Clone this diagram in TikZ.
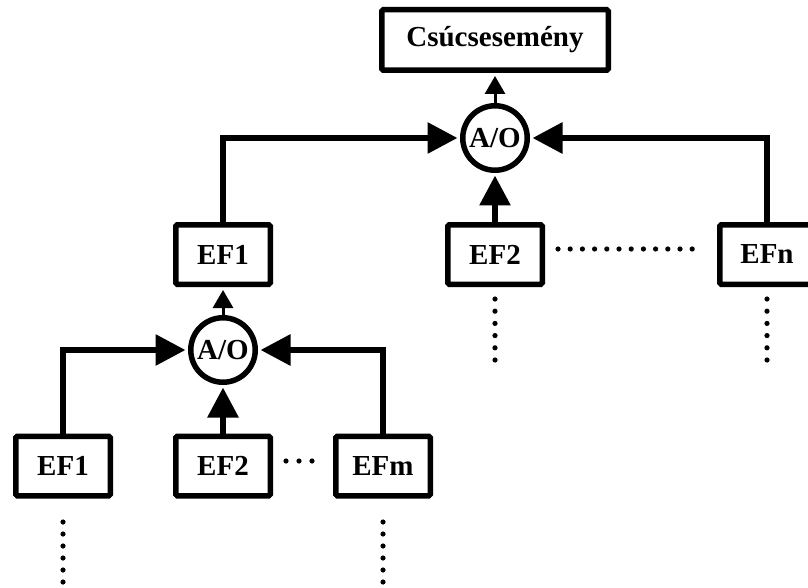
\documentclass[tikz,border=0pt]{standalone}
\usepackage{fontspec}
\setmainfont{Liberation Serif}
\usetikzlibrary{arrows.meta}
\tikzset{
  evbox/.style={draw, line width=5.5pt, rounded corners=1.5pt, minimum width=94.5pt, minimum height=59.5pt, inner sep=0pt, font=\fontsize{29}{34}\selectfont\bfseries},
  gate/.style={draw, circle, line width=5.5pt, minimum size=64.5pt, inner sep=0pt, font=\fontsize{29}{34}\selectfont\bfseries},
  bigarrow/.style={line width=6pt, line join=miter, -{Triangle[length=30pt,width=30pt]}, shorten >=2.5pt},
  smallarrow/.style={line width=3pt, -{Triangle[length=18pt,width=20pt]}, shorten >=3pt},
  dotmark/.style={fill=black}
}
\begin{document}
\begin{tikzpicture}[x=1pt,y=-1pt]
\useasboundingbox (0,0) rectangle (808,588);
\begin{scope}
\clip (0,0) rectangle (808,588);
\node[evbox, minimum width=226.5pt, minimum height=60.5pt] (top) at (495,40) {Csúcsesemény};
\node[gate] (c1) at (495,138) {A/O};
\node[evbox] (m1) at (223,254.5) {EF1};
\node[evbox] (m2) at (495,254.5) {EF2};
\node[evbox] (mn) at (767,254.5) {EFn};
\node[gate] (c2) at (223,350) {A/O};
\node[evbox] (b1) at (63,466) {EF1};
\node[evbox] (b2) at (223,466) {EF2};
\node[evbox] (bm) at (383,466) {EFm};

\draw[smallarrow] (c1) -- (top);
\draw[bigarrow] (m1) |- (c1);
\draw[bigarrow] (mn) |- (c1);
\draw[bigarrow] (m2) -- (c1);

\draw[smallarrow] (c2) -- (m1);
\draw[bigarrow] (b1) |- (c2);
\draw[bigarrow] (bm) |- (c2);
\draw[bigarrow] (b2) -- (c2);

% dots
\foreach \i in {0,...,11} \fill[dotmark] (558+\i*12.2,249) circle (2.6pt);
\foreach \i in {0,...,5} {
  \fill[dotmark] (495,299+\i*12.2) circle (2.6pt);
  \fill[dotmark] (767,299+\i*12.2) circle (2.6pt);
  \fill[dotmark] (63,522+\i*12) circle (2.6pt);
  \fill[dotmark] (383,522+\i*12) circle (2.6pt);
}
\foreach \i in {0,...,2} \fill[dotmark] (286+\i*13,461) circle (2.6pt);
\end{scope}
\end{tikzpicture}
\end{document}
